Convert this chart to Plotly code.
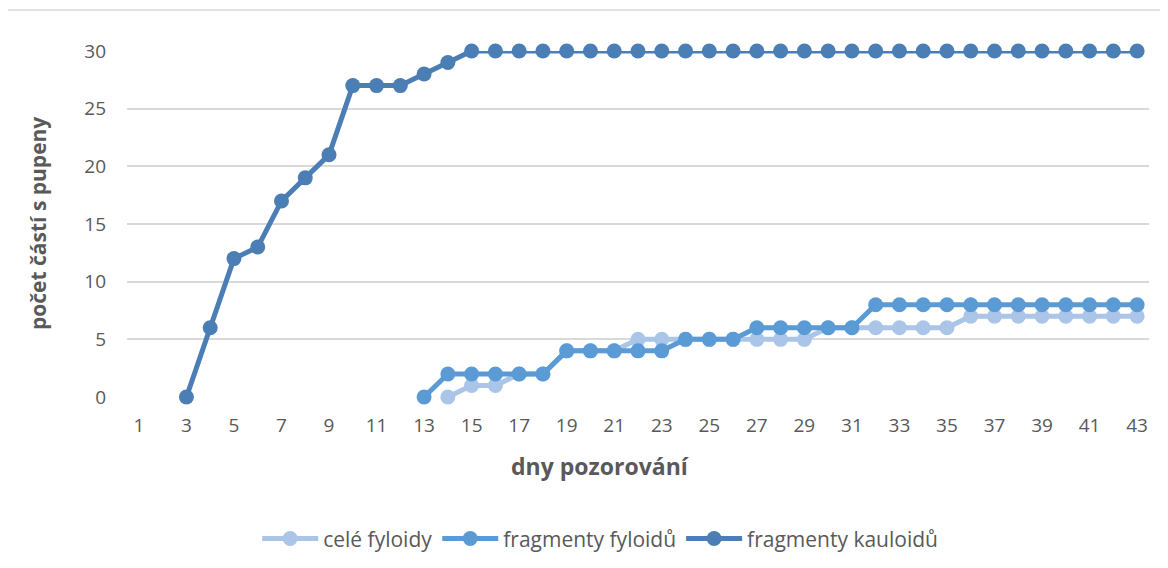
import plotly.graph_objects as go

# dny pozorování 1..43
days = list(range(1, 44))

# values (None = no point)
cele_fyloidy = [None] * 13 + [0, 1, 1, 2, 2, 4, 4, 4, 5, 5, 5, 5, 5, 5, 5, 5, 6, 6,
                              6, 6, 6, 6, 7, 7, 7, 7, 7, 7, 7, 7]
fragmenty_fyloidu = [None] * 12 + [0, 2, 2, 2, 2, 2, 4, 4, 4, 4, 4, 5, 5, 5, 6, 6, 6,
                                   6, 6, 8, 8, 8, 8, 8, 8, 8, 8, 8, 8, 8, 8]
fragmenty_kauloidu = [None] * 2 + [0, 6, 12, 13, 17, 19, 21, 27, 27, 27, 28, 29] + [30] * 29

x_ticks = list(range(1, 44, 2))
y_ticks = [0, 5, 10, 15, 20, 25, 30]

series = [
    ("celé fyloidy", cele_fyloidy, "#AAC5E7"),
    ("fragmenty fyloidů", fragmenty_fyloidu, "#5B9BD5"),
    ("fragmenty kauloidů", fragmenty_kauloidu, "#4A7EB4"),
]

FONT = "'Open Sans', 'Noto Sans', sans-serif"
GREY = "#595959"

fig = go.Figure()
for name, vals, col in series:
    fig.add_trace(go.Scatter(
        x=days, y=vals, name=name, mode="lines+markers",
        line=dict(color=col, width=5),
        marker=dict(color=col, size=15),
        cliponaxis=False,
    ))

# page body has an 8px margin, so the figure is 8px smaller than the window
fig.update_layout(
    width=1160, height=560,
    margin=dict(l=119, r=19, t=43, b=171, autoexpand=False),
    paper_bgcolor="white", plot_bgcolor="white",
    font=dict(family=FONT, color=GREY, size=19),
    showlegend=True,
    legend=dict(orientation="h", x=0.463, xanchor="center", y=-0.41, yanchor="middle",
                font=dict(size=21, color=GREY), itemwidth=56, tracegroupgap=0),
    xaxis=dict(range=[0.5, 43.5], tickvals=x_ticks, showgrid=False, zeroline=False,
               showline=False, ticks="", ticklabelstandoff=15, automargin=False,
               tickfont=dict(size=19, color=GREY)),
    yaxis=dict(range=[0, 30], tickvals=y_ticks, showgrid=True, gridcolor="#D9D9D9",
               gridwidth=1.5, zeroline=False, showline=False, ticks="",
               ticklabelstandoff=20, automargin=False, tickfont=dict(size=19, color=GREY)),
    annotations=[
        dict(text="<b>dny pozorování</b>", xref="paper", yref="paper", x=0.463, y=-0.2,
             xanchor="center", yanchor="middle", showarrow=False,
             font=dict(size=23, color=GREY)),
        dict(text="<b>počet částí s pupeny</b>", xref="paper", yref="paper", x=-0.087,
             y=0.5, xanchor="center", yanchor="middle", textangle=-90, showarrow=False,
             font=dict(size=21, color=GREY)),
    ],
    shapes=[
        dict(type="rect", xref="paper", yref="paper", x0=-0.1174, x1=1.2, y0=-0.7, y1=1.1185,
             line=dict(color="#D9D9D9", width=1.5), layer="below"),
    ],
)

fig.write_html("out.html")
